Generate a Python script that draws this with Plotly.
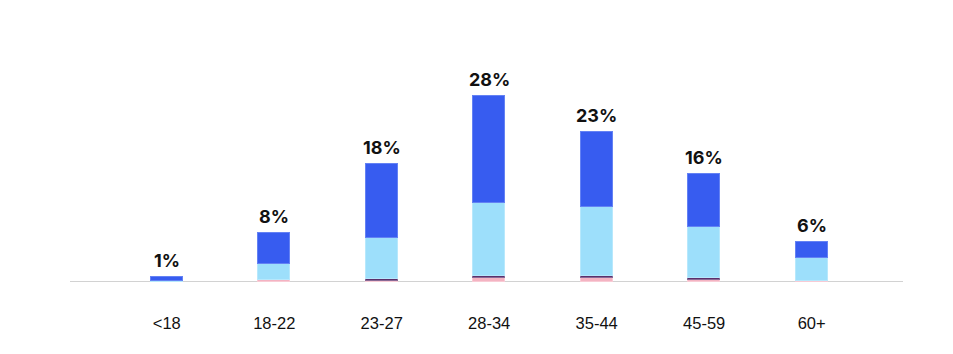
import plotly.graph_objects as go

categories = ["<18", "18-22", "23-27", "28-34", "35-44", "45-59", "60+"]
pink = [0.05, 0.3, 0.15, 0.6, 0.6, 0.3, 0.1]
dark_purple = [0.0, 0.0, 0.3, 0.3, 0.3, 0.3, 0.0]
light_blue = [0.1, 2.4, 6.2, 11.0, 10.4, 7.7, 3.5]
blue = [0.55, 4.7, 11.1, 16.1, 11.4, 8.0, 2.4]
labels = ["1%", "8%", "18%", "28%", "23%", "16%", "6%"]

series = [
    ("Pink", pink, "#f4b3c2", "#f8cbd5"),
    ("Dark", dark_purple, "#5b2f6b", "#8a6a96"),
    ("Light blue", light_blue, "#9ddffb", "#b7e8fc"),
    ("Blue", blue, "#375cf0", "#6482f4"),
]

fig = go.Figure()
for name, vals, col, lcol in series:
    fig.add_trace(go.Bar(
        x=categories, y=vals, name=name, width=0.3,
        marker=dict(color=col, line=dict(color=lcol, width=1)),
        hoverinfo="skip",
    ))

totals = [p + d + l + b for p, d, l, b in zip(pink, dark_purple, light_blue, blue)]
for c, t, lab in zip(categories, totals, labels):
    fig.add_annotation(x=c, y=t, text="<b>" + lab + "</b>", showarrow=False,
                       yanchor="bottom", yshift=4,
                       font=dict(family="Inter, Roboto, sans-serif", size=18, color="#111"))

fig.update_layout(
    barmode="stack",
    width=953, height=354,
    margin=dict(l=70, r=50, t=51, b=72),
    paper_bgcolor="white", plot_bgcolor="white",
    showlegend=False,
    bargap=0,
    xaxis=dict(range=[-0.9, 6.85], showgrid=False, showline=False, zeroline=False,
               ticks="", ticklabelstandoff=29,
               tickfont=dict(family="Liberation Sans, Arial, sans-serif", size=16.5, color="#111")),
    yaxis=dict(range=[0, 34.85], visible=False, showgrid=False, zeroline=False),
    shapes=[dict(type="line", xref="paper", yref="y", x0=0, x1=1, y0=0, y1=0,
                 line=dict(color="#d2d2d2", width=2), layer="below")],
)

fig.write_html("out.html")
